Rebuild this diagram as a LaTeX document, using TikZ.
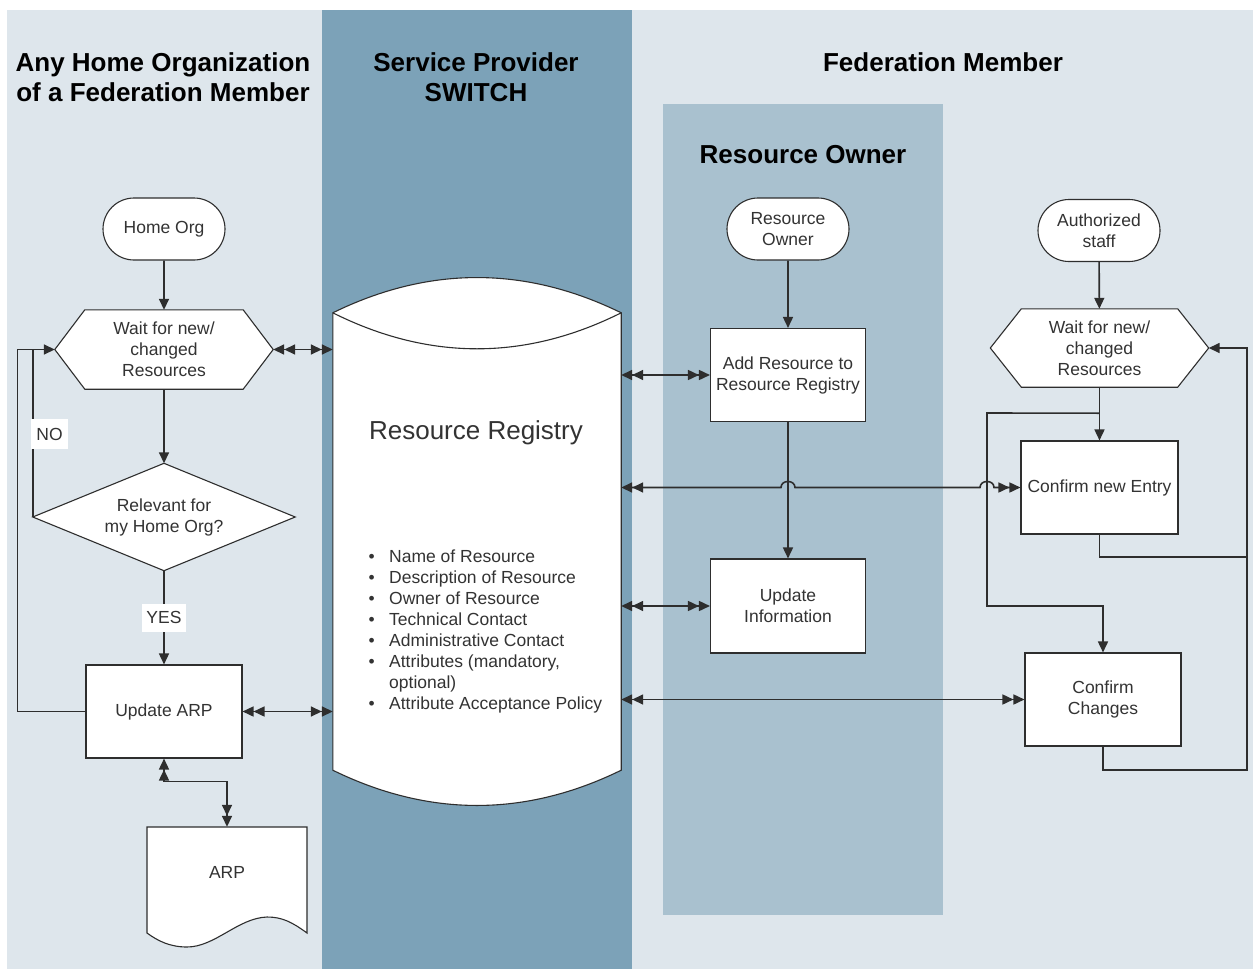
\documentclass[tikz,border=0pt]{standalone}
\usepackage{fontspec}
\setmainfont{Liberation Sans}
\usetikzlibrary{arrows.meta,calc,shapes.misc}

\definecolor{lanelight}{HTML}{DEE6EC}
\definecolor{lanemid}{HTML}{7CA2B8}
\definecolor{laneowner}{HTML}{A9C1CF}
\definecolor{ink}{HTML}{2E2E2E}
\definecolor{txt}{HTML}{333333}

\newcommand\fbody{\fontsize{17.5}{21}\selectfont}
\newcommand\fhead{\fontsize{26}{30}\selectfont\bfseries}
\newcommand\fbig{\fontsize{26}{30}\selectfont}

\pgfdeclarelayer{lanes}
\pgfdeclarelayer{shapes}
\pgfsetlayers{lanes,shapes,main}

\tikzset{
  >={Triangle[length=11pt,width=10pt]},
  head/.style={align=center, font=\fhead, text=black, inner sep=0pt},
  proc/.style={draw=ink, line width=1.1pt, fill=white, align=center, font=\fbody,
    text=txt, minimum width=156pt, minimum height=93pt, inner sep=2pt},
  term/.style={rounded rectangle, draw=ink, line width=1.1pt, fill=white, align=center,
    font=\fbody, text=txt, minimum width=126pt, minimum height=62pt, inner sep=2pt},
  frame/.style={align=center, font=\fbody, text=txt, inner sep=0pt},
  outline/.style={draw=ink, line width=1.1pt, fill=white},
  flow/.style={draw=ink, line width=1.6pt},
  tag/.style={fill=white, font=\fbody, text=txt, inner xsep=4pt, inner ysep=0pt,
    minimum height=28pt},
  item/.style={anchor=base west, font=\fbody, text=txt, inner sep=0pt},
}

\begin{document}
\begin{tikzpicture}[x=1pt, y=-1pt]
\useasboundingbox (0,0) rectangle (1253,969);

% swim lanes
\begin{pgfonlayer}{lanes}
  \fill[white] (0,0) rectangle (1253,969);
  \fill[lanelight] (7,10) rectangle (322,969);
  \fill[lanemid] (322,10) rectangle (632,969);
  \fill[lanelight] (632,10) rectangle (1253,969);
  \fill[laneowner] (663,104) rectangle (943,915);
\end{pgfonlayer}

% lane headings
\node[head] (hHome) at (163,77) {Any Home Organization\\of a Federation Member};
\node[head] (hSP) at (476,77) {Service Provider\\SWITCH};
\node[head] (hFed) at (943,62) {Federation Member};
\node[head] (hOwner) at (803,155) {Resource Owner};

% ---- home organization lane ----
\node[term] (home) at (164,229) {Home Org};
\node[frame, minimum width=218pt, minimum height=79pt] (waitL) at (164,349.5)
  {Wait for new/\\changed\\Resources};
\node[frame, minimum width=262pt, minimum height=107pt] (rel) at (164,517)
  {Relevant for\\my Home Org?};
\node[proc] (arpupd) at (164,711.5) {Update ARP};
\node[frame, minimum width=160pt, minimum height=90pt] (arp) at (227,872) {ARP};

\begin{pgfonlayer}{shapes}
  \draw[outline] (waitL.west) -- ([xshift=30pt]waitL.north west)
    -- ([xshift=-30pt]waitL.north east) -- (waitL.east)
    -- ([xshift=-30pt]waitL.south east) -- ([xshift=30pt]waitL.south west) -- cycle;
  \draw[outline] (rel.north) -- (rel.east) -- (rel.south) -- (rel.west) -- cycle;
  % document symbol with wavy lower edge
  \draw[outline] (147,827) -- (307,827) -- (307,933)
    .. controls (292,922) and (282,917) .. (267,917)
    .. controls (238,918) and (215,947) .. (187,947)
    .. controls (170,947) and (158,941) .. (147,933) -- cycle;
\end{pgfonlayer}

% ---- resource registry (database cylinder) ----
\node[minimum width=288pt, minimum height=457pt, inner sep=0pt] (reg) at (477,541.5) {};
\begin{pgfonlayer}{shapes}
  \draw[outline] (reg.north west) .. controls ++(96,-47) and ++(-96,-47) .. (reg.north east)
    -- (reg.south east) .. controls ++(-96,47) and ++(96,47) .. (reg.south west) -- cycle;
  \draw[draw=ink, line width=1.1pt] (reg.north west) .. controls ++(96,48) and ++(-96,48) .. (reg.north east);
\end{pgfonlayer}
\node[font=\fbig, text=txt, inner sep=0pt] (regtitle) at (476,433) {Resource Registry};
\foreach \t [count=\i] in {Name of Resource, Description of Resource, Owner of Resource,
    Technical Contact, Administrative Contact, {Attributes (mandatory,}, optional),
    Attribute Acceptance Policy}{
  \node[item] (item\i) at (389,{541+21.1*\i}) {\t};
}
\foreach \i in {1,2,3,4,5,6,8}{
  \node[anchor=base east, font=\fbody, text=txt, inner sep=0pt] (bul\i) at ([xshift=-14pt]item\i.base west) {\textbullet};
}

% ---- resource owner lane ----
\node[term] (owner) at (788,229) {Resource\\Owner};
\node[proc, minimum width=155pt] (addres) at (788,375) {Add Resource to\\Resource Registry};
\node[proc, minimum width=155pt, minimum height=94pt] (updinfo) at (788,606) {Update\\Information};

% ---- authorized staff ----
\node[term] (staff) at (1099,230.5) {Authorized\\staff};
\node[frame, minimum width=218pt, minimum height=78pt] (waitR) at (1099.5,348)
  {Wait for new/\\changed\\Resources};
\begin{pgfonlayer}{shapes}
  \draw[outline] (waitR.west) -- ([xshift=31pt]waitR.north west)
    -- ([xshift=-31pt]waitR.north east) -- (waitR.east)
    -- ([xshift=-31pt]waitR.south east) -- ([xshift=31pt]waitR.south west) -- cycle;
\end{pgfonlayer}
\node[proc, minimum width=157pt] (confnew) at (1099.5,487.5) {Confirm new Entry};
\node[proc] (confchg) at (1103,699.5) {Confirm\\Changes};

% ---- connectors: home organization ----
\draw[flow, ->] (home) -- (waitL);
\draw[flow, ->] (waitL) -- (rel);
\draw[flow, ->] (rel) -- (arpupd) node[tag, pos=0.5] (yes) {YES};
\draw[flow, ->] (arpupd.west) -- ([xshift=-68pt]arpupd.west) |- (waitL.west);
\draw[flow] (rel.west) -- (rel.west |- waitL.west);
\node[tag, minimum height=30pt, inner xsep=5pt] (no) at (49.5,434) {NO};
\draw[flow, <<->>] (arpupd.south) -- ([yshift=-23pt]arpupd.south) -| (arp.north);
\draw[flow, <<->>] (waitL.east) -- (waitL.east -| reg.west);
\draw[flow, <<->>] (arpupd.east) -- (arpupd.east -| reg.west);

% ---- connectors: registry to the federation member ----
\draw[flow, <<->>] (reg.east |- addres.west) -- (addres.west);
\draw[flow, <<->>] (reg.east |- updinfo.west) -- (updinfo.west);
\draw[flow, <<->>] (reg.east |- confchg.west) -- (confchg.west);
\coordinate (bendA) at (987,413);
\coordinate (bendB) at (987,606);
\draw[flow, <<->>] (reg.east |- confnew.west)
  -- ($(addres.south |- confnew.west)+(-7,0)$)
  .. controls ++(0,-8) and ++(0,-8) .. ($(addres.south |- confnew.west)+(7,0)$)
  -- ($(bendA |- confnew.west)+(-7,0)$)
  .. controls ++(0,-8) and ++(0,-8) .. ($(bendA |- confnew.west)+(7,0)$)
  -- (confnew.west);

% ---- connectors: resource owner ----
\draw[flow, ->] (owner) -- (addres);
\draw[flow, ->] (addres) -- (updinfo);

% ---- connectors: authorized staff ----
\coordinate (split) at ([yshift=-26pt]waitR.south);
\coordinate (backA) at (1247,557);
\coordinate (backB) at (1247,770);
\draw[flow, ->] (staff) -- (waitR);
\draw[flow, ->] (waitR.south) -- (confnew.north);
\draw[flow, ->] (split) -- (bendA) -- (bendB) -| (confchg.north);
\draw[flow, ->] (confnew.south) |- (backA) |- (waitR.east);
\draw[flow] (confchg.south) |- (backB) -- (backA);
\end{tikzpicture}
\end{document}
